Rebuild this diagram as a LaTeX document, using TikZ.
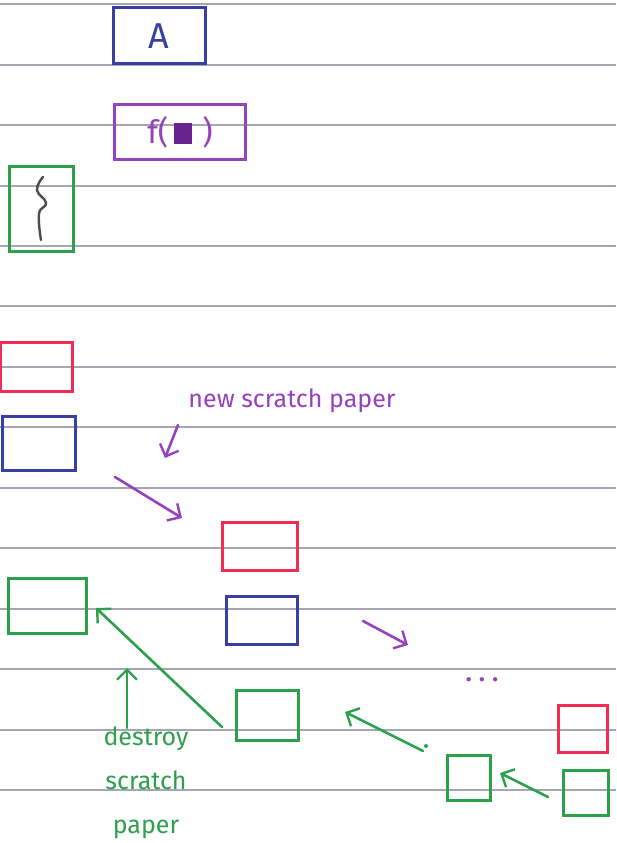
\documentclass[tikz,border=0pt]{standalone}
\usepackage{fontspec}
\setmainfont{Fira Sans}
\usetikzlibrary{arrows.meta}
\definecolor{penblue}{RGB}{55,65,165}
\definecolor{penpurple}{RGB}{150,65,190}
\definecolor{pengreen}{RGB}{45,160,75}
\definecolor{penred}{RGB}{240,45,85}
\definecolor{ruleline}{RGB}{165,165,180}
\definecolor{darkpurple}{RGB}{105,35,145}
\begin{document}
\begin{tikzpicture}[x=1pt,y=-1pt,
  box/.style={draw,line width=3pt,inner sep=0pt},
  pen/.style={line width=2.6pt,line cap=round},
  head/.style={-{Straight Barb[length=10pt,width=20pt,line width=2.4pt]}},
  hand/.style={font=\fontsize{25}{44}\selectfont}]
\fill[white] (0,0) rectangle (616,843);
\useasboundingbox (0,0) rectangle (616,843);
\foreach \y in {4,65,125,186,246,306,367,427,488,548,609,669,730,790}
  \draw[ruleline,line width=1.1pt] (0,\y) -- (616,\y);

% top definitions
\node[box,penblue,minimum width=92pt,minimum height=56pt,font=\fontsize{36}{36}\selectfont] (A) at (159,36) {A};
\node[box,penpurple,minimum width=131pt,minimum height=55pt,font=\fontsize{32}{32}\selectfont] (F) at (180,132)
  {f(\,{\color{darkpurple}\rule[-1pt]{18pt}{21pt}}\,\,)};
\node[box,pengreen,minimum width=64pt,minimum height=85pt] (B) at (41,209) {};
\draw[gray!60!black,line width=2.4pt,line cap=round] plot[smooth,tension=0.8] coordinates {(43,177) (37,190) (46,203) (39,214) (41,240)};

% first frame
\node[box,penred,minimum width=72pt,minimum height=49pt] (r1) at (36,367) {};
\node[box,penblue,minimum width=73pt,minimum height=54pt] (b1) at (38.5,443) {};

\node[hand,penpurple] (lbl) at (292,401) {new scratch paper};
\coordinate (la) at (178,425);
\coordinate (lb) at (165,458);
\draw[pen,penpurple,head] (la) -- (lb);
\coordinate (p1a) at (115,477);
\coordinate (p1b) at (182,518);
\draw[pen,penpurple,head] (p1a) -- (p1b);

% second frame
\node[box,penred,minimum width=75pt,minimum height=48pt] (r2) at (259.5,546) {};
\node[box,penblue,minimum width=71pt,minimum height=48pt] (b2) at (261.5,620) {};
\coordinate (p2a) at (363,621);
\coordinate (p2b) at (408,645);
\draw[pen,penpurple,head] (p2a) -- (p2b);
\node[penpurple,font=\fontsize{24}{24}\selectfont\bfseries] (dots) at (482,680) {. . .};

% green stack
\node[box,pengreen,minimum width=78pt,minimum height=55pt] (gL) at (47,605.5) {};
\node[box,pengreen,minimum width=62pt,minimum height=50pt] (gM) at (267,715) {};
\node[box,pengreen,minimum width=43pt,minimum height=45pt] (gS) at (468.5,777.5) {};
\node[box,penred,minimum width=49pt,minimum height=47pt] (rR) at (582.5,728.5) {};
\node[box,pengreen,minimum width=45pt,minimum height=45pt] (gR) at (585.5,792.5) {};

\coordinate (g1a) at (222,727);
\coordinate (g1b) at (96,608);
\draw[pen,pengreen,head] (g1a) -- (g1b);
\coordinate (g2a) at (423,751);
\coordinate (g2b) at (345,712);
\draw[pen,pengreen,head] (g2a) -- (g2b);
\fill[pengreen] (426,746) circle (2pt);
\coordinate (g3a) at (548,797);
\coordinate (g3b) at (500,773);
\draw[pen,pengreen,head] (g3a) -- (g3b);

\node[hand,pengreen,align=center] (dlbl) at (146,783) {destroy\\scratch\\paper};
\coordinate (ua) at (127,728);
\coordinate (ub) at (127,668);
\draw[pen,pengreen,head] (ua) -- (ub);
\end{tikzpicture}
\end{document}
